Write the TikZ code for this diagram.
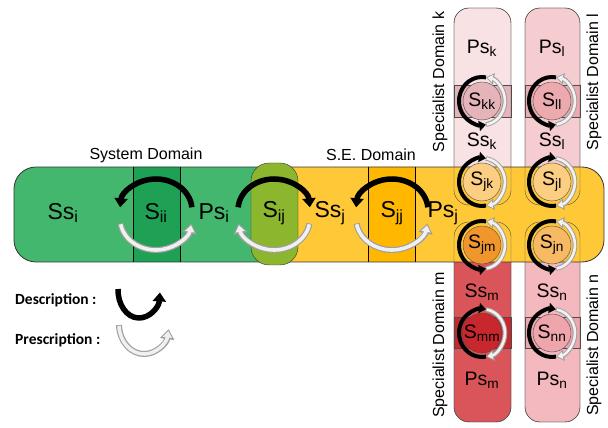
\documentclass[tikz,border=0pt]{standalone}
\usepackage{fontspec}
\setmainfont{Liberation Sans}
\newfontfamily\legendfont{Carlito}
\usetikzlibrary{arrows.meta}

\definecolor{sysgreen}{RGB}{67,183,110}
\definecolor{siigreen}{RGB}{30,160,85}
\definecolor{sijolive}{RGB}{140,182,45}
\definecolor{seyellow}{RGB}{255,200,55}
\definecolor{sjjorange}{RGB}{255,183,0}
\definecolor{kpink}{RGB}{249,226,228}
\definecolor{kkpink}{RGB}{228,180,184}
\definecolor{lpink}{RGB}{245,204,207}
\definecolor{llpink}{RGB}{236,170,175}
\definecolor{mred}{RGB}{218,85,90}
\definecolor{mmred}{RGB}{200,40,45}
\definecolor{npink}{RGB}{244,185,190}
\definecolor{nnpink}{RGB}{238,165,172}
\definecolor{jkfill}{RGB}{251,206,130}
\definecolor{jmfill}{RGB}{240,150,45}
\definecolor{jnfill}{RGB}{247,185,100}

\tikzset{
  lbl/.style={font=\fontsize{23}{25}\selectfont,inner sep=0pt},
  vlbl/.style={font=\fontsize{19.5}{21}\selectfont,inner sep=0pt},
  dom/.style={font=\fontsize{16}{18}\selectfont,inner sep=0pt},
  legend/.style={font=\legendfont\bfseries\fontsize{15.5}{17}\selectfont,inner sep=0pt},
  jcirc/.style={vlbl,circle,draw=black!70,minimum size=38pt},
  desc/.style={line width=5.5pt,-{Triangle[length=9pt,width=13pt]}},
  presc/.style={draw=gray!75,line width=6pt,-{Triangle[length=10pt,width=14pt]},
    postaction={draw=gray!12,line width=3.6pt,-{Triangle[length=6.5pt,width=9pt]},
      shorten >=1.8pt,shorten <=0.8pt}},
  descv/.style={line width=4pt,-{Triangle[length=7pt,width=10pt]}},
  prescv/.style={draw=gray!75,line width=4.6pt,-{Triangle[length=8pt,width=11pt]},
    postaction={draw=gray!10,line width=2.6pt,-{Triangle[length=5pt,width=7pt]},
      shorten >=1.6pt,shorten <=0.8pt}},
}

\begin{document}
\begin{tikzpicture}[x=1pt,y=1pt]
  \useasboundingbox (0,0) rectangle (608,428);

  % specialist columns
  \filldraw[fill=kpink,draw=black!70,rounded corners=15] (454,223) rectangle (511,420);
  \filldraw[fill=lpink,draw=black!70,rounded corners=15] (525,223) rectangle (580,420);
  \filldraw[fill=mred,draw=black!70,rounded corners=15] (454,6) rectangle (511,206);
  \filldraw[fill=npink,draw=black!70,rounded corners=15] (525,6) rectangle (580,206);
  \filldraw[fill=kkpink,draw=black!70] (454,311) rectangle (511,343);
  \filldraw[fill=llpink,draw=black!70] (525,311) rectangle (580,343);
  \filldraw[fill=mmred,draw=black!70] (454,80) rectangle (511,111);
  \filldraw[fill=nnpink,draw=black!70] (525,80) rectangle (580,111);

  % system / S.E. band
  \begin{scope}
    \clip[rounded corners=22] (14,166) rectangle (604,261);
    \fill[seyellow] (14,166) rectangle (604,261);
    \fill[sysgreen] (14,166) rectangle (274,261);
    \filldraw[fill=siigreen,draw=black] (133,160) rectangle (180,267);
    \filldraw[fill=sjjorange,draw=black] (368,160) rectangle (415,267);
  \end{scope}
  \draw[black!80,line width=0.8pt,rounded corners=22] (14,166) rectangle (604,261);
  \draw[black!70,rounded corners=15] (454,223) rectangle (511,420);
  \draw[black!70,rounded corners=15] (525,223) rectangle (580,420);
  \draw[black!70,rounded corners=15] (454,6) rectangle (511,206);
  \draw[black!70,rounded corners=15] (525,6) rectangle (580,206);
  \filldraw[fill=sijolive,draw=black!80,rounded corners=18] (251,163) rectangle (298,265);

  % domain titles
  \node[dom] (sysdom) at (146,273) {System Domain};
  \node[dom] (sedom) at (371,273) {S.E. Domain};
  \node[dom,rotate=90] (domk) at (440,346) {Specialist Domain k};
  \node[dom,rotate=90] (doml) at (594,346) {Specialist Domain l};
  \node[dom,rotate=90] (domm) at (440,83) {Specialist Domain m};
  \node[dom,rotate=90] (domn) at (594,83) {Specialist Domain n};

  % horizontal labels
  \node[lbl] (ssi) at (63,215) {Ss\textsubscript{i}};
  \node[lbl] (sii) at (156,215) {S\textsubscript{ii}};
  \node[lbl] (psi) at (214,215) {Ps\textsubscript{i}};
  \node[lbl] (sij) at (274,215) {S\textsubscript{ij}};
  \node[lbl] (ssj) at (330,215) {Ss\textsubscript{j}};
  \node[lbl] (sjj) at (392,215) {S\textsubscript{jj}};
  \node[lbl] (psj) at (443,215) {Ps\textsubscript{j}};

  % vertical labels
  \node[vlbl] (psk) at (482,380) {Ps\textsubscript{k}};
  \node[vlbl] (psl) at (552,380) {Ps\textsubscript{l}};
  \node[vlbl] (ssk) at (482,287) {Ss\textsubscript{k}};
  \node[vlbl] (ssl) at (552,287) {Ss\textsubscript{l}};
  \node[vlbl] (ssm) at (482,136) {Ss\textsubscript{m}};
  \node[vlbl] (ssn) at (552,136) {Ss\textsubscript{n}};
  \node[vlbl] (psm) at (482,48) {Ps\textsubscript{m}};
  \node[vlbl] (psn) at (552,48) {Ps\textsubscript{n}};
  \node[jcirc,fill=kkpink] (skk) at (482,327) {S\textsubscript{kk}};
  \node[jcirc,fill=llpink] (sll) at (552,327) {S\textsubscript{ll}};
  \node[jcirc,fill=jkfill] (sjk) at (482,246) {S\textsubscript{jk}};
  \node[jcirc,fill=jkfill] (sjl) at (552,246) {S\textsubscript{jl}};
  \node[jcirc,fill=jmfill] (sjm) at (482,183) {S\textsubscript{jm}};
  \node[jcirc,fill=jnfill] (sjn) at (552,183) {S\textsubscript{jn}};
  \node[jcirc,fill=mmred] (smm) at (482,95) {S\textsubscript{mm}};
  \node[jcirc,fill=nnpink] (snn) at (552,95) {S\textsubscript{nn}};

  % description above, prescription below
  \foreach \n/\a/\b/\c/\d in {sii/5/175/190/350, sij/175/5/350/190, sjj/5/175/190/350}{
    \draw[desc] ([shift={(\a:36 and 31)},yshift=3pt]\n.center)
      arc[start angle=\a,end angle=\b,x radius=36,y radius=31];
    \draw[presc] ([shift={(\c:36 and 32)},yshift=-5pt]\n.center)
      arc[start angle=\c,end angle=\d,x radius=36,y radius=32];
  }
  % description left, prescription right
  \foreach \n/\a/\b/\c/\d in {skk/80/280/-80/80, sll/80/280/-80/80,
      sjk/280/80/80/-80, sjl/280/80/80/-80, sjm/80/280/-80/80,
      sjn/80/280/-80/80, smm/280/80/80/-80, snn/280/80/80/-80}{
    \draw[descv] ([shift={(\a:23 and 24)}]\n.center)
      arc[start angle=\a,end angle=\b,x radius=23,y radius=24];
    \draw[prescv] ([shift={(\c:23 and 24)}]\n.center)
      arc[start angle=\c,end angle=\d,x radius=23,y radius=24];
  }

  % legend
  \node[legend,anchor=west] (dlab) at (15,128) {Description :};
  \node[legend,anchor=west] (plab) at (15,88) {Prescription :};
  \coordinate (dsym) at (139,138);
  \coordinate (psym) at (144,104);
  \draw[desc] ([shift={(178:21 and 28)}]dsym)
    arc[start angle=178,end angle=355,x radius=21,y radius=28];
  \draw[presc] ([shift={(182:25 and 30)}]psym)
    arc[start angle=182,end angle=350,x radius=25,y radius=30];
\end{tikzpicture}
\end{document}
